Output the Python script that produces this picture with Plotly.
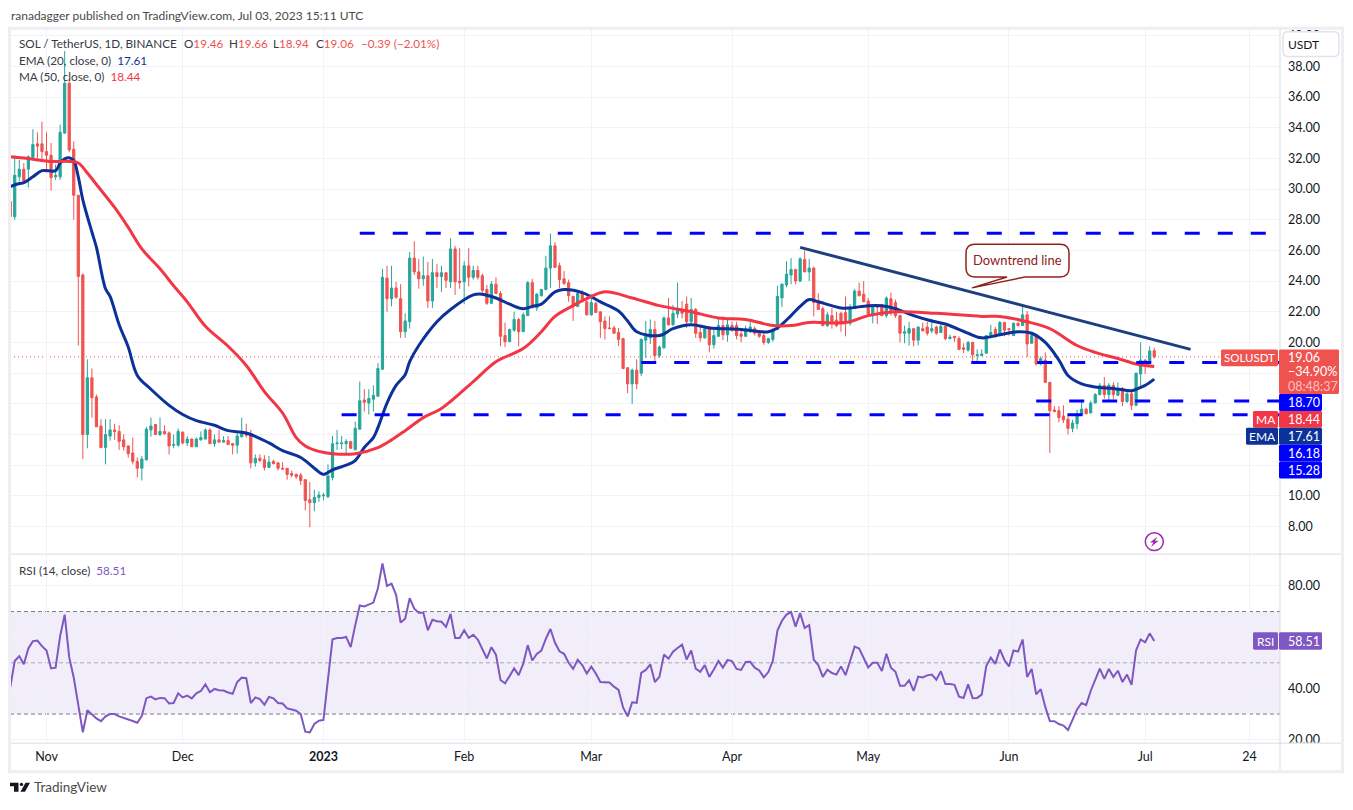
#%%
# imports

import pandas as pd
import plotly.graph_objects as go

#%%
# data

first_day = "2022-10-24"

open_ = [29.2, 28.2, 30.8, 31.3, 31.3, 32.05, 32.95, 32.95, 32.45, 32.2,
         30.8, 30.8, 33.65, 36.9, 32.6, 29.6, 24.4, 14.0, 17.7, 16.45,
         14.55, 13.15, 13.9, 14.3, 14.2, 13.65, 13.25, 12.8, 12.25, 11.8,
         12.35, 14.3, 14.65, 14.0, 14.2, 14.1, 13.3, 13.3, 14.15, 13.45,
         13.7, 13.2, 13.65, 13.7, 14.3, 13.4, 13.65, 13.5, 13.6, 13.4,
         13.3, 13.85, 14.05, 14.05, 12.15, 12.45, 12.35, 11.85, 12.25, 12.15,
         11.8, 11.8, 11.45, 11.4, 11.35, 11.05, 9.75, 9.55, 9.9, 10.0,
         9.95, 11.2, 13.4, 13.4, 13.4, 13.55, 13.0, 14.35, 16.25, 16.05,
         16.3, 16.5, 18.25, 24.2, 22.85, 23.55, 22.85, 20.7, 21.35, 25.5,
         24.6, 24.15, 24.35, 22.7, 24.55, 24.3, 24.55, 23.95, 26.1, 24.0,
         23.95, 25.0, 24.25, 24.7, 24.35, 23.45, 22.55, 23.8, 23.2, 20.45,
         20.05, 20.8, 21.5, 20.7, 21.75, 23.9, 22.25, 23.05, 23.45, 24.85,
         26.3, 25.0, 24.15, 23.9, 23.0, 22.35, 23.2, 22.65, 21.8, 22.55,
         22.0, 21.4, 20.95, 20.95, 20.65, 20.25, 18.35, 17.3, 18.2, 18.0,
         20.15, 20.3, 20.85, 19.15, 19.65, 21.6, 21.15, 21.85, 22.15, 22.5,
         21.35, 22.15, 20.65, 20.3, 21.0, 19.85, 20.4, 21.1, 20.5, 21.1,
         21.1, 20.55, 20.4, 20.8, 20.9, 20.65, 20.45, 20.0, 20.2, 20.85,
         22.9, 23.75, 24.4, 24.75, 24.0, 25.4, 24.6, 24.85, 22.6, 22.2,
         21.1, 21.75, 21.45, 21.9, 21.95, 21.25, 22.2, 23.35, 23.15, 22.7,
         21.75, 22.35, 22.45, 21.75, 22.85, 22.6, 21.75, 20.6, 20.6, 20.9,
         20.15, 20.9, 21.0, 20.75, 21.0, 20.65, 21.05, 20.25, 20.4, 20.25,
         19.65, 19.5, 20.0, 19.15, 19.15, 19.3, 20.45, 20.85, 20.5, 21.3,
         20.9, 20.45, 21.25, 21.1, 21.8, 19.95, 20.45, 18.6, 18.85, 17.4,
         15.6, 15.55, 15.2, 15.0, 14.4, 14.7, 15.3, 15.65, 15.4, 16.05,
         16.6, 17.2, 16.6, 17.2, 16.55, 17.0, 16.15, 16.65, 15.9, 17.95,
         18.85, 18.65, 19.46]

high = [29.2, 32.2, 31.9, 31.7, 32.2, 33.9, 33.7, 34.4, 33.7, 33.0,
        31.6, 34.2, 39.0, 37.2, 33.1, 29.6, 24.5, 18.9, 18.3, 16.6,
        15.0, 15.0, 15.0, 14.7, 14.6, 14.0, 13.3, 13.8, 12.5, 12.6,
        14.5, 15.1, 14.65, 15.1, 14.6, 14.2, 14.0, 14.4, 14.2, 13.9,
        13.75, 13.8, 14.2, 14.4, 14.4, 14.0, 14.3, 13.9, 13.9, 13.45,
        14.2, 15.1, 14.7, 14.3, 12.7, 12.7, 12.65, 12.6, 12.35, 12.2,
        12.2, 11.8, 11.65, 11.45, 11.5, 11.1, 10.9, 10.4, 10.3, 10.2,
        12.05, 13.9, 14.3, 13.9, 13.7, 13.55, 14.85, 17.45, 16.95, 16.95,
        17.2, 18.65, 24.8, 25.0, 25.0, 23.95, 23.8, 21.9, 25.9, 26.6,
        25.45, 25.6, 25.25, 25.45, 25.1, 25.0, 24.55, 26.8, 26.3, 26.15,
        25.3, 26.15, 25.0, 25.0, 24.5, 23.75, 24.0, 24.25, 23.35, 21.3,
        20.9, 22.0, 21.6, 21.95, 24.0, 24.15, 23.2, 23.5, 25.65, 27.1,
        26.55, 25.2, 24.65, 24.1, 23.0, 23.25, 23.4, 23.0, 23.15, 22.65,
        22.0, 21.7, 21.7, 21.1, 20.95, 20.3, 18.4, 18.3, 18.9, 20.25,
        21.4, 21.5, 21.4, 19.8, 21.7, 22.9, 22.45, 23.9, 22.7, 23.0,
        22.9, 22.25, 21.15, 21.1, 21.05, 20.95, 21.6, 21.7, 21.55, 21.35,
        21.35, 20.85, 21.1, 21.35, 21.05, 20.7, 20.7, 20.3, 20.95, 23.7,
        23.85, 25.3, 25.5, 24.8, 25.55, 26.0, 25.45, 24.95, 23.2, 22.35,
        22.0, 22.25, 22.0, 22.0, 23.0, 22.5, 23.5, 23.9, 24.0, 22.9,
        22.4, 22.5, 22.5, 23.0, 23.25, 22.8, 21.8, 21.1, 21.35, 20.9,
        21.05, 21.3, 21.35, 21.55, 21.1, 21.3, 21.1, 20.5, 20.4, 20.4,
        19.95, 20.1, 20.05, 19.55, 19.55, 20.45, 21.15, 21.0, 21.4, 21.35,
        20.9, 21.3, 21.3, 22.45, 22.05, 20.7, 20.5, 19.1, 19.35, 17.4,
        15.85, 15.85, 15.9, 15.35, 14.95, 15.6, 16.2, 15.75, 16.2, 16.7,
        17.35, 17.75, 17.35, 17.4, 17.4, 17.1, 16.8, 16.9, 18.0, 20.0,
        18.9, 19.75, 19.66]

low = [28.2, 28.0, 30.5, 30.5, 30.1, 32.0, 32.0, 31.9, 31.1, 29.9,
       30.6, 30.6, 33.6, 32.4, 28.0, 19.8, 12.4, 13.1, 15.1, 14.5,
       13.1, 12.05, 13.6, 13.65, 13.0, 12.95, 12.5, 12.05, 11.2, 11.0,
       12.3, 13.85, 14.0, 13.9, 14.0, 12.7, 13.1, 13.2, 13.35, 13.25,
       13.2, 13.2, 13.6, 13.7, 13.4, 13.2, 13.5, 13.5, 13.3, 12.7,
       12.75, 13.8, 13.8, 11.8, 11.9, 12.2, 11.65, 11.85, 12.05, 11.65,
       11.7, 11.05, 11.2, 11.1, 10.7, 9.05, 7.95, 9.0, 9.6, 9.7,
       9.85, 11.0, 13.0, 13.05, 12.7, 13.1, 13.0, 14.3, 15.5, 15.3,
       15.5, 16.45, 18.2, 22.0, 22.35, 22.85, 20.3, 20.3, 20.9, 24.4,
       23.5, 23.7, 22.25, 22.25, 23.55, 23.3, 23.55, 23.55, 23.1, 23.5,
       22.5, 23.65, 24.1, 24.1, 23.05, 22.45, 22.5, 23.15, 19.75, 19.7,
       20.05, 20.7, 19.75, 20.7, 21.75, 22.25, 22.05, 23.0, 23.4, 23.55,
       24.85, 23.55, 23.75, 22.65, 21.4, 22.3, 22.65, 21.75, 21.75, 21.95,
       20.3, 20.2, 20.9, 20.6, 19.75, 18.3, 16.7, 16.0, 16.95, 17.8,
       19.0, 19.9, 18.75, 19.0, 19.6, 21.1, 21.1, 21.6, 21.55, 20.95,
       21.15, 20.3, 20.05, 20.25, 19.35, 19.6, 20.4, 20.15, 20.05, 20.7,
       20.2, 20.0, 20.4, 20.6, 20.45, 20.3, 19.85, 19.9, 20.05, 20.8,
       22.3, 23.6, 23.8, 23.8, 23.95, 24.6, 24.0, 21.7, 22.15, 21.05,
       21.0, 20.9, 21.0, 20.7, 20.4, 21.1, 22.2, 23.0, 22.65, 21.8,
       21.25, 21.2, 21.7, 21.6, 21.75, 21.6, 20.0, 19.95, 19.8, 19.75,
       19.8, 20.75, 20.45, 20.6, 20.5, 20.65, 20.15, 20.2, 20.05, 19.5,
       19.3, 19.4, 18.65, 18.75, 19.1, 19.3, 20.3, 20.3, 20.45, 20.4,
       20.45, 20.45, 21.05, 21.1, 19.05, 19.9, 18.5, 18.5, 17.35, 12.8,
       15.45, 14.8, 14.75, 14.0, 14.15, 14.35, 15.3, 15.35, 15.4, 16.05,
       16.55, 16.35, 16.2, 16.3, 16.55, 15.85, 16.05, 15.6, 15.85, 17.0,
       17.95, 18.65, 18.94]

close = [28.2, 30.9, 31.3, 30.55, 32.1, 32.9, 32.8, 32.45, 32.2, 30.75,
         30.9, 33.7, 36.9, 32.55, 29.6, 24.3, 14.0, 17.7, 16.4, 14.5,
         13.15, 14.0, 14.3, 14.2, 13.55, 13.2, 12.75, 12.25, 11.8, 12.4,
         14.35, 14.55, 14.0, 14.2, 14.05, 13.25, 13.35, 14.2, 13.45, 13.7,
         13.2, 13.7, 13.8, 14.3, 13.4, 13.65, 13.5, 13.6, 13.35, 13.3,
         13.9, 14.1, 13.95, 12.15, 12.45, 12.3, 11.85, 12.2, 12.1, 11.8,
         11.75, 11.4, 11.35, 11.25, 11.0, 9.7, 9.55, 9.9, 10.05, 10.05,
         11.3, 13.4, 13.45, 13.45, 13.55, 13.1, 14.4, 16.2, 16.1, 16.35,
         16.55, 18.3, 24.25, 22.85, 23.55, 22.95, 20.7, 21.4, 25.5, 24.6,
         24.15, 24.35, 22.7, 24.55, 24.3, 24.55, 24.05, 26.1, 23.95, 23.9,
         25.0, 24.25, 24.7, 24.25, 23.4, 22.55, 23.8, 23.2, 20.4, 20.05,
         20.85, 21.5, 20.7, 21.8, 23.9, 22.25, 23.15, 23.45, 24.85, 26.3,
         24.9, 24.1, 23.85, 23.05, 22.35, 23.2, 22.65, 21.8, 22.6, 21.95,
         21.35, 20.9, 20.9, 20.6, 20.2, 18.3, 17.3, 18.2, 17.3, 20.2,
         20.4, 20.85, 19.15, 19.7, 21.6, 21.15, 21.9, 22.15, 21.9, 21.35,
         22.15, 20.6, 20.3, 20.9, 19.85, 20.45, 21.1, 20.5, 21.15, 20.8,
         20.45, 20.4, 20.9, 21.0, 20.6, 20.4, 20.0, 20.25, 20.85, 23.0,
         23.8, 24.45, 24.75, 24.0, 25.45, 24.6, 24.85, 22.6, 22.15, 21.1,
         21.8, 21.35, 21.1, 21.3, 21.3, 22.3, 23.35, 23.05, 22.65, 21.85,
         22.4, 22.3, 21.75, 22.9, 22.0, 21.75, 20.6, 20.7, 20.9, 20.15,
         21.0, 20.75, 20.6, 20.9, 20.6, 21.05, 20.25, 20.35, 20.3, 19.55,
         19.55, 20.0, 19.2, 19.2, 19.25, 20.45, 20.65, 20.45, 21.3, 20.8,
         20.85, 21.25, 21.1, 21.8, 19.9, 20.45, 18.6, 18.95, 17.4, 15.55,
         15.5, 15.1, 14.95, 14.4, 14.75, 15.35, 15.65, 15.35, 16.05, 16.6,
         17.2, 16.6, 17.2, 16.6, 17.0, 16.15, 16.65, 15.9, 18.0, 18.85,
         18.5, 19.45, 19.06]

rsi = [40.3, 50.7, 52.6, 49.4, 55.6, 58.4, 58.7, 56.5, 54.8, 47.8,
       48.1, 60.4, 68.8, 52.2, 44.2, 33.9, 22.9, 31.5, 30.0, 28.3,
       27.2, 29.1, 30.0, 30.0, 29.1, 28.6, 27.9, 27.3, 26.6, 29.3,
       36.2, 36.8, 35.7, 36.3, 36.2, 34.1, 34.3, 38.1, 36.5, 37.2,
       36.1, 38.1, 39.0, 41.6, 38.5, 39.8, 39.3, 39.2, 38.4, 37.9,
       42.5, 44.2, 44.0, 34.3, 36.5, 35.8, 33.6, 36.7, 36.1, 34.3,
       34.1, 32.2, 31.8, 31.3, 30.0, 23.1, 22.8, 26.1, 27.4, 27.7,
       43.6, 59.2, 59.7, 59.7, 60.1, 56.1, 64.6, 72.4, 72.0, 72.6,
       73.5, 79.1, 88.8, 80.0, 80.9, 76.5, 65.7, 67.2, 75.2, 71.1,
       69.5, 69.5, 62.7, 66.8, 66.2, 66.0, 64.0, 69.1, 59.7, 59.7,
       62.7, 59.7, 60.9, 59.1, 55.4, 51.7, 56.1, 53.2, 43.3, 42.0,
       44.8, 47.8, 45.2, 49.6, 56.9, 50.9, 53.5, 54.8, 59.4, 63.2,
       57.8, 54.5, 53.5, 50.0, 47.6, 51.2, 49.1, 45.8, 48.5, 45.8,
       42.5, 42.3, 42.3, 40.7, 39.4, 32.6, 29.1, 34.6, 34.4, 46.1,
       47.2, 49.4, 42.5, 44.5, 53.2, 51.6, 54.3, 55.8, 57.1, 51.3,
       54.8, 47.7, 46.5, 49.1, 44.5, 47.4, 50.7, 48.1, 51.1, 50.7,
       47.6, 47.2, 50.3, 50.4, 48.1, 47.0, 44.3, 46.4, 50.9, 62.6,
       66.4, 68.8, 69.8, 64.1, 69.4, 63.6, 64.7, 51.2, 49.1, 44.5,
       47.3, 46.0, 45.4, 48.6, 45.2, 50.7, 56.3, 55.6, 52.2, 48.2,
       50.0, 50.0, 46.8, 53.5, 48.1, 46.5, 41.0, 41.0, 43.2, 39.0,
       44.6, 44.3, 45.1, 45.4, 43.4, 46.7, 41.7, 41.7, 41.4, 36.8,
       36.3, 41.6, 36.2, 36.3, 37.6, 48.7, 52.0, 49.6, 55.2, 51.1,
       48.6, 54.8, 54.4, 59.1, 44.5, 47.6, 37.7, 39.7, 32.8, 27.3,
       27.2, 26.1, 25.5, 23.8, 27.7, 31.8, 34.3, 33.5, 39.0, 43.6,
       47.7, 43.7, 47.6, 44.5, 46.9, 42.5, 45.4, 41.4, 54.9, 59.1,
       58.0, 61.5, 58.51]

# moving averages, read at the candle numbers in *_idx
ema_idx = [0, 2, 3, 5, 7, 10, 11, 12, 13, 14, 15, 16, 18, 19, 21, 22, 24, 26, 28, 31,
           35, 38, 41, 45, 48, 52, 57, 60, 64, 67, 69, 71, 74, 76, 78, 80, 81, 83, 85, 87,
           88, 90, 94, 97, 102, 104, 107, 110, 113, 115, 117, 120, 122, 126, 130, 134, 136, 138, 143, 146,
           150, 154, 161, 167, 169, 172, 174, 176, 178, 183, 185, 189, 192, 195, 199, 203, 206, 211, 214, 218,
           222, 225, 228, 231, 233, 236, 239, 243, 247, 248, 250, 252]
ema = [30.16, 30.36, 30.42, 30.8, 31.2, 31.2, 31.7, 31.97, 32.04, 31.85, 30.8, 29.3, 27.2, 26.2, 23.5, 23.0, 21.15, 19.7, 17.85, 16.95,
       15.9, 15.3, 14.9, 14.6, 14.25, 14.1, 13.45, 12.95, 12.5, 11.8, 11.4, 11.7, 12.0, 12.3, 13.15, 13.8, 14.45, 16.05, 17.2, 17.9,
       18.75, 19.8, 21.35, 22.15, 23.1, 23.15, 22.9, 22.5, 22.2, 22.35, 22.5, 23.3, 23.45, 23.25, 22.65, 22.05, 21.4, 20.7, 20.45, 20.9,
       21.15, 20.95, 20.85, 20.7, 20.95, 21.75, 22.35, 22.8, 22.65, 22.25, 22.25, 22.4, 22.4, 22.2, 21.75, 21.4, 21.2, 20.6, 20.3, 20.5,
       20.7, 20.6, 20.0, 18.85, 17.85, 17.3, 17.1, 17.0, 16.85, 16.95, 17.2, 17.61]

ma_idx = [0, 5, 9, 13, 15, 17, 19, 23, 26, 29, 33, 36, 39, 43, 48, 52, 56, 60, 63, 65,
          68, 71, 76, 81, 84, 87, 91, 95, 102, 107, 113, 117, 120, 124, 127, 131, 137, 143, 150, 156,
          162, 168, 172, 176, 184, 189, 195, 204, 214, 218, 224, 229, 235, 239, 244, 248, 252]
ma = [32.1, 31.95, 31.8, 31.8, 31.7, 31.05, 30.3, 28.8, 27.5, 26.1, 24.8, 23.7, 22.65, 21.05, 19.75, 18.5, 16.8, 15.4, 13.8, 13.25,
      12.9, 12.75, 12.75, 13.15, 13.65, 14.25, 15.1, 15.7, 17.45, 18.75, 19.6, 20.7, 21.7, 22.4, 22.85, 23.3, 22.9, 22.4, 22.0, 21.6,
      21.5, 21.1, 21.1, 21.3, 21.3, 21.75, 22.0, 21.9, 21.7, 21.7, 21.35, 20.9, 19.8, 19.35, 18.95, 18.6, 18.44]

# horizontal levels drawn on the chart
level_values = [27.12, 18.70, 16.18, 15.28]
level_starts = ["2023-01-09", "2023-03-12", "2023-06-07", "2023-01-05"]
level_end = "2023-08-31"

trend_dates = ["2023-04-16", "2023-07-11"]
trend_values = [26.2, 19.55]

price_ticks = [8, 10, 12, 14, 16, 18, 20, 22, 24, 26, 28, 30, 32, 34, 36, 38, 40]
price_labels = ["8.00", "10.00", "", "", "", "", "20.00", "22.00", "24.00", "26.00", "28.00",
                "30.00", "32.00", "34.00", "36.00", "38.00", "40.00"]
rsi_ticks = [20, 40, 60, 80]
rsi_labels = ["20.00", "40.00", "", "80.00"]
rsi_levels = [70, 50, 30]
time_ticks = ["2022-11-01", "2022-12-01", "2023-01-01", "2023-02-01", "2023-03-01",
              "2023-04-01", "2023-05-01", "2023-06-01", "2023-07-01", "2023-07-24"]
time_labels = ["Nov", "Dec", "<b>2023</b>", "Feb", "Mar", "Apr", "May", "Jun", "Jul", "24"]

assert len(open_) == len(high) == len(low) == len(close) == len(rsi) == 253
assert len(ema_idx) == len(ema) and len(ma_idx) == len(ma)

#%%
# colours and page helpers

UP = "#26a69a"
DOWN = "#ef5350"
EMA_COL = "#0c3299"
MA_COL = "#f23645"
LEVEL_COL = "#0000ff"
TREND_COL = "#1e3f7e"
RSI_COL = "#7e57c2"
GRID = "#f0f3fa"
FRAME = "#eeeef3"
TEXT = "#131722"
FONT = "Lato"

# the photographed page comes out a few pixels short, so lay out a bit taller
W, H = 1353, 814
PLOT_L, PLOT_R = 10, 1280
PAGE_R = 1341


def X(px):
    return px / W


def Y(py):
    return 1 - py / H


def path(points):
    return "M" + " L".join(f"{X(a):.5f},{Y(b):.5f}" for a, b in points) + " Z"


def round_rect(x0, y0, x1, y1, r):
    d = f"M{X(x0 + r):.5f},{Y(y0):.5f} L{X(x1 - r):.5f},{Y(y0):.5f}"
    d += f" Q{X(x1):.5f},{Y(y0):.5f} {X(x1):.5f},{Y(y0 + r):.5f}"
    d += f" L{X(x1):.5f},{Y(y1 - r):.5f} Q{X(x1):.5f},{Y(y1):.5f} {X(x1 - r):.5f},{Y(y1):.5f}"
    d += f" L{X(x0 + r):.5f},{Y(y1):.5f} Q{X(x0):.5f},{Y(y1):.5f} {X(x0):.5f},{Y(y1 - r):.5f}"
    d += f" L{X(x0):.5f},{Y(y0 + r):.5f} Q{X(x0):.5f},{Y(y0):.5f} {X(x0 + r):.5f},{Y(y0):.5f} Z"
    return d


shapes = []
notes = []


def box(x0, y0, x1, y1, fill, r=1.5, line=None, lw=0):
    shapes.append(dict(type="path", path=round_rect(x0, y0, x1, y1, r), xref="paper", yref="paper",
                       fillcolor=fill, line=dict(color=line or fill, width=lw), layer="above"))


def rect(x0, y0, x1, y1, fill, layer="above"):
    shapes.append(dict(type="rect", xref="paper", yref="paper", x0=X(x0), x1=X(x1), y0=Y(y0), y1=Y(y1),
                       fillcolor=fill, line=dict(width=0), layer=layer))


def note(px, py, text, color=TEXT, size=12, anchor="left"):
    notes.append(dict(xref="paper", yref="paper", x=X(px), y=Y(py), text=text, showarrow=False,
                      xanchor=anchor, yanchor="middle", align=anchor, borderpad=0,
                      font=dict(family=FONT, size=size, color=color)))


#%%
# traces

days = pd.date_range(first_day, periods=len(close))
ema_days = days[ema_idx]
ma_days = days[ma_idx]

fig = go.Figure()

fig.add_trace(go.Candlestick(
    x=days, open=open_, high=high, low=low, close=close,
    increasing=dict(line=dict(color=UP, width=1), fillcolor=UP),
    decreasing=dict(line=dict(color=DOWN, width=1), fillcolor=DOWN),
    whiskerwidth=0, hoverinfo="skip",
))

fig.add_trace(go.Scatter(x=ema_days, y=ema, mode="lines", line=dict(color=EMA_COL, width=3, shape="spline", smoothing=1)))
fig.add_trace(go.Scatter(x=ma_days, y=ma, mode="lines", line=dict(color=MA_COL, width=3, shape="spline", smoothing=1)))

for start, level in zip(level_starts, level_values):
    fig.add_trace(go.Scatter(x=[start, level_end], y=[level, level], mode="lines",
                             line=dict(color=LEVEL_COL, width=3, dash="15px,18px")))

fig.add_trace(go.Scatter(x=trend_dates, y=trend_values, mode="lines", line=dict(color=TREND_COL, width=3)))

fig.add_trace(go.Scatter(x=days, y=rsi, mode="lines", xaxis="x2", yaxis="y2", line=dict(color=RSI_COL, width=2)))

#%%
# panes, levels, frame

shapes.append(dict(type="line", xref="paper", yref="y", x0=X(PLOT_L), x1=X(1221), y0=close[-1], y1=close[-1],
                   line=dict(color=DOWN, width=1, dash="1px,3px"), layer="below"))
shapes.append(dict(type="rect", xref="paper", yref="y2", x0=X(PLOT_L), x1=X(PLOT_R), y0=rsi_levels[2], y1=rsi_levels[0],
                   fillcolor="rgba(126,87,194,0.1)", line=dict(width=0), layer="below"))
for level, col in zip(rsi_levels, ["#787b86", "rgba(120,123,134,0.6)", "#787b86"]):
    shapes.append(dict(type="line", xref="paper", yref="y2", x0=X(PLOT_L), x1=X(PLOT_R), y0=level, y1=level,
                       line=dict(color=col, width=1, dash="4px,3px"), layer="below"))

# mask for the clipped bottom rsi tick, then separators and the outer frame
rect(PLOT_R + 1, 748, PAGE_R, 775, "white")
rect(PLOT_L, 556.5, PAGE_R, 558, "#e6e8ef")
rect(PLOT_L, 747, PAGE_R, 748.5, "#e6e8ef")
rect(PLOT_R - 0.5, 28, PLOT_R + 0.5, 775, "#d8dbe3")
rect(8, 26, 1344, 29, FRAME)
rect(8, 775, 1344, 778, FRAME)
rect(8, 26, 11, 778, FRAME)
rect(1341, 26, 1344, 778, FRAME)

# callout
shapes.append(dict(type="path", xref="paper", yref="paper", layer="above", fillcolor="rgba(255,255,255,0.95)",
                   line=dict(color="#912018", width=1.5),
                   path=(f"M{X(975):.5f},{Y(245):.5f} L{X(1060):.5f},{Y(245):.5f} Q{X(1069):.5f},{Y(245):.5f} {X(1069):.5f},{Y(254):.5f}"
                         f" L{X(1069):.5f},{Y(269):.5f} Q{X(1069):.5f},{Y(278):.5f} {X(1060):.5f},{Y(278):.5f}"
                         f" L{X(1025):.5f},{Y(278):.5f} L{X(972):.5f},{Y(289):.5f} L{X(1007):.5f},{Y(278):.5f}"
                         f" L{X(975):.5f},{Y(278):.5f} Q{X(966):.5f},{Y(278):.5f} {X(966):.5f},{Y(269):.5f}"
                         f" L{X(966):.5f},{Y(254):.5f} Q{X(966):.5f},{Y(245):.5f} {X(975):.5f},{Y(245):.5f} Z")))
note(1017.5, 261, "Downtrend line", "#912018", 13, "center")

# price scale tags
box(1283, 31, 1339, 56, "white", r=5, line="#e0e3eb", lw=1.5)
note(1287, 43.5, "USDT", TEXT, 12)

box(1221, 351, 1278, 368, DOWN)
note(1249.5, 359.5, "SOLUSDT", "white", 11.5, "center")
box(1279, 351, 1339, 396, DOWN)
note(1287, 359.5, "19.06", "white", 12.5)
note(1287, 373.5, "−34.90%", "white", 12.5)
note(1287, 388, "08:48:37", "rgba(255,255,255,0.65)", 12.5)

box(1279, 396, 1322, 413, LEVEL_COL)
note(1287, 404.5, "18.70", "white", 12.5)
box(1253, 413, 1278, 430, MA_COL)
note(1265.5, 421.5, "MA", "white", 12, "center")
box(1279, 413, 1322, 430, MA_COL)
note(1287, 421.5, "18.44", "white", 12.5)
box(1246, 430, 1278, 447, EMA_COL)
note(1262, 438.5, "EMA", "white", 12, "center")
box(1279, 430, 1322, 447, EMA_COL)
note(1287, 438.5, "17.61", "white", 12.5)
box(1279, 447, 1322, 464, LEVEL_COL)
note(1287, 455.5, "16.18", "white", 12.5)
box(1279, 464, 1322, 481, LEVEL_COL)
note(1287, 472.5, "15.28", "white", 12.5)

box(1253, 636, 1278, 653.5, RSI_COL)
note(1265.5, 645, "RSI", "white", 12, "center")
box(1279, 636, 1322, 653.5, RSI_COL)
note(1287, 645, "58.51", "white", 12.5)

# earnings style icon
shapes.append(dict(type="circle", xref="paper", yref="paper", x0=X(1145.3), x1=X(1163.3), y0=Y(535.7), y1=Y(553.7),
                   line=dict(color="#9c27b0", width=1.5), fillcolor="white", layer="above"))
shapes.append(dict(type="path", xref="paper", yref="paper", layer="above", fillcolor="#9c27b0", line=dict(width=0),
                   path=path([(1157.5, 539.5), (1150, 545.5), (1153.5, 545.5), (1151, 550), (1158.5, 543.7), (1155, 543.7)])))

# logo
shapes.append(dict(type="path", xref="paper", yref="paper", layer="above", fillcolor="#131722", line=dict(width=0),
                   path=path([(10, 787.5), (18.5, 787.5), (18.5, 796.5), (14, 796.5), (14, 791), (10, 791)])))
shapes.append(dict(type="circle", xref="paper", yref="paper", x0=X(19.8), x1=X(23.2), y0=Y(787.5), y1=Y(790.9),
                   fillcolor="#131722", line=dict(width=0), layer="above"))
shapes.append(dict(type="path", xref="paper", yref="paper", layer="above", fillcolor="#131722", line=dict(width=0),
                   path=path([(25.5, 787.5), (30, 787.5), (25, 796.5), (20.5, 796.5)])))

# header and legend text
note(10, 15, "ranadagger published on TradingView.com, Jul 03, 2023 15:11 UTC", "#4a4a4a", 12)
note(18, 42, "SOL / TetherUS, 1D, BINANCE", "#363a45", 11.7)
note(183, 42, f"O<span style='color:{DOWN}'>19.46</span>", "#363a45", 11.7)
note(228, 42, f"H<span style='color:{DOWN}'>19.66</span>", "#363a45", 11.7)
note(272, 42, f"L<span style='color:{DOWN}'>18.94</span>", "#363a45", 11.7)
note(315, 42, f"C<span style='color:{DOWN}'>19.06</span>", "#363a45", 11.7)
note(360, 42, "−0.39 (−2.01%)", DOWN, 11.7)
note(18, 59, f"EMA (20, close, 0)  <span style='color:{EMA_COL}'>17.61</span>", "#363a45", 11.7)
note(18, 76, f"MA (50, close, 0)  <span style='color:{MA_COL}'>18.44</span>", "#363a45", 11.7)
note(18, 573, f"RSI (14, close)  <span style='color:{RSI_COL}'>58.51</span>", "#363a45", 11.7)
note(33, 792, "TradingView", "#4a4a4a", 13.5)

#%%
# layout

x_range = ["2022-10-23 23:00", "2023-07-30 16:48"]

fig.update_layout(
    width=W, height=H,
    margin=dict(l=0, r=0, t=0, b=0),
    paper_bgcolor="white", plot_bgcolor="white",
    showlegend=False, hovermode=False,
    font=dict(family=FONT, size=12, color=TEXT),
    boxgap=0.3,
    shapes=shapes, annotations=notes,
    xaxis=dict(domain=[X(PLOT_L), X(PLOT_R)], anchor="y", range=x_range, type="date",
               tickvals=time_ticks, showticklabels=False, ticklen=0,
               showgrid=True, gridcolor=GRID, gridwidth=1, zeroline=False,
               rangeslider=dict(visible=False)),
    yaxis=dict(domain=[Y(556), Y(28)], anchor="x", side="right", range=[6.28, 40.45],
               tickmode="array", tickvals=price_ticks, ticktext=price_labels, ticks="", ticklabelstandoff=7,
               showgrid=True, gridcolor=GRID, gridwidth=1, zeroline=False,
               tickfont=dict(family=FONT, size=12.5, color=TEXT)),
    xaxis2=dict(domain=[X(PLOT_L), X(PLOT_R)], anchor="y2", range=x_range, type="date",
                tickmode="array", tickvals=time_ticks, ticktext=time_labels, ticks="", ticklabelstandoff=5,
                showgrid=True, gridcolor=GRID, gridwidth=1, zeroline=False,
                tickfont=dict(family=FONT, size=12.5, color=TEXT)),
    yaxis2=dict(domain=[Y(747), Y(557)], anchor="x2", side="right", range=[18.9, 92.5],
                tickmode="array", tickvals=rsi_ticks, ticktext=rsi_labels, ticks="", ticklabelstandoff=7,
                showgrid=True, gridcolor=GRID, gridwidth=1, zeroline=False,
                tickfont=dict(family=FONT, size=12.5, color=TEXT)),
)

fig.write_html("out.html", config=dict(displayModeBar=False), default_width="1353px", default_height="814px",
               post_script="document.body.style.margin='0';document.body.style.overflow='hidden';")
